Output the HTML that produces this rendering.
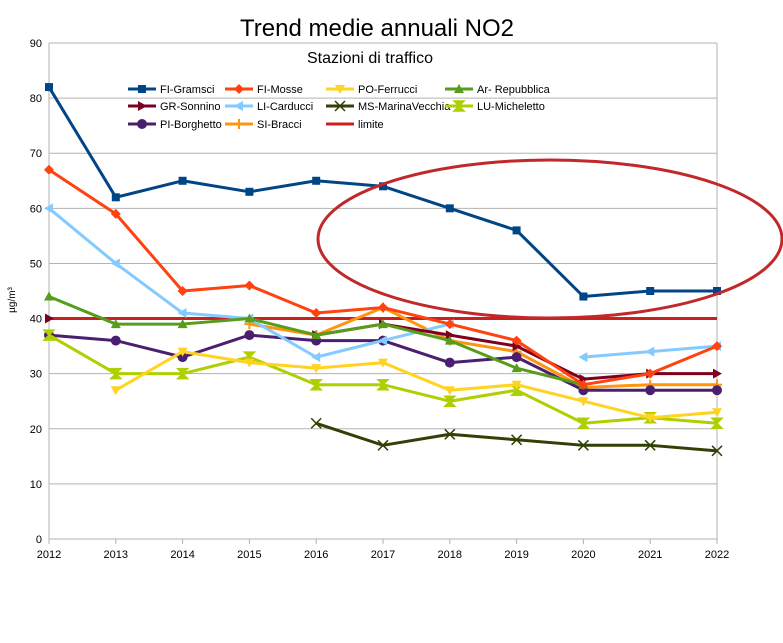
<!DOCTYPE html>
<html><head><meta charset="utf-8"><style>
body{margin:0;background:#fff;font-family:"Liberation Sans",sans-serif}
</style></head><body>
<svg id="chart" width="783" height="638" xmlns="http://www.w3.org/2000/svg" font-family="Liberation Sans, sans-serif">
<rect width="783" height="638" fill="#fff"/>
<text x="377" y="36" font-size="24" text-anchor="middle">Trend medie annuali NO2</text>
<text x="370" y="63" font-size="16" text-anchor="middle">Stazioni di traffico</text>
<text transform="translate(15,300) rotate(-90)" font-size="10" text-anchor="middle">µg/m³</text>
<g id="grid"></g><g id="series"></g><g id="legend"></g>
<ellipse cx="550" cy="239" rx="232" ry="79" fill="none" stroke="#c0282a" stroke-width="3"/>
</svg>
<script>
const years=[2012,2013,2014,2015,2016,2017,2018,2019,2020,2021,2022];
const yTicks=[0,10,20,30,40,50,60,70,80,90];
const fiGramsci=[82,62,65,63,65,64,60,56,44,45,45];
const fiMosse=[67,59,45,46,41,42,39,36,28,30,35];
const poFerrucci=[null,27,34,32,31,32,27,28,25,22,23];
const arRepubblica=[44,39,39,40,37,39,36,31,28,null,null];
const grSonnino=[40,null,null,null,37,39,37,35,29,30,30];
const liCarducci=[60,50,41,40,33,36,39,null,33,34,35];
const msMarinaVecchia=[null,null,null,null,21,17,19,18,17,17,16];
const luMicheletto=[37,30,30,33,28,28,25,27,21,22,21];
const piBorghetto=[37,36,33,37,36,36,32,33,27,27,27];
const siBracci=[null,null,null,39,37,42,36,34,27.5,28,28];
const limite=[40,40,40,40,40,40,40,40,40,40,40];
const NS="http://www.w3.org/2000/svg";
const X0=49,X1=717,Y0=539,Y1=43;
const xs=y=>X0+(y-years[0])/(years[years.length-1]-years[0])*(X1-X0);
const ys=v=>Y0-v/90*(Y0-Y1);
function mk(t,a,p){const e=document.createElementNS(NS,t);for(const k in a)e.setAttribute(k,a[k]);p.appendChild(e);return e;}
const grid=document.getElementById('grid');
yTicks.forEach(v=>{
 const l=mk('line',{x1:X0,x2:X1,y1:ys(v),y2:ys(v),stroke:'#b3b3b3','stroke-width':1},grid);
 
 
 const t=mk('text',{x:X0-7,y:ys(v)+4,'font-size':11,'text-anchor':'end'},grid);t.textContent=v;
 
 
});
mk('line',{x1:X0,x2:X0,y1:Y1,y2:Y0,stroke:'#b3b3b3'},grid);
mk('line',{x1:X1,x2:X1,y1:Y1,y2:Y0,stroke:'#b3b3b3'},grid);
years.forEach(y=>{
 mk('line',{x1:xs(y),x2:xs(y),y1:Y0,y2:Y0+5,stroke:'#b3b3b3'},grid);
 const t=mk('text',{x:xs(y),y:Y0+19,'font-size':11,'text-anchor':'middle'},grid);t.textContent=y;
 
 
});
function marker(shape,x,y,c,g){
 const s=5;
 if(shape==='square')return mk('rect',{x:x-4,y:y-4,width:8,height:8,fill:c},g);
 if(shape==='diamond')return mk('polygon',{points:`${x},${y-s} ${x+s},${y} ${x},${y+s} ${x-s},${y}`,fill:c},g);
 if(shape==='down')return mk('polygon',{points:`${x-s},${y-4} ${x+s},${y-4} ${x},${y+5}`,fill:c},g);
 if(shape==='up')return mk('polygon',{points:`${x-s},${y+4} ${x+s},${y+4} ${x},${y-5}`,fill:c},g);
 if(shape==='right')return mk('polygon',{points:`${x-4},${y-s} ${x-4},${y+s} ${x+5},${y}`,fill:c},g);
 if(shape==='left')return mk('polygon',{points:`${x+4},${y-s} ${x+4},${y+s} ${x-5},${y}`,fill:c},g);
 if(shape==='bowtie')return mk('polygon',{points:`${x-5},${y-5} ${x},${y} ${x-5},${y+5} ${x+5},${y-5} ${x},${y} ${x+5},${y+5}`,fill:c,stroke:c,'stroke-width':1.5},g);
 if(shape==='hour')return mk('polygon',{points:`${x-5},${y-5} ${x+5},${y-5} ${x},${y} ${x+5},${y+5} ${x-5},${y+5} ${x},${y}`,fill:c,stroke:c,'stroke-width':1.5},g);
 if(shape==='circle')return mk('circle',{cx:x,cy:y,r:5,fill:c},g);
 if(shape==='star'){const gg=mk('g',{},g);mk('line',{x1:x-5,x2:x+5,y1:y,y2:y,stroke:c,'stroke-width':2},gg);mk('line',{x1:x,x2:x,y1:y-5,y2:y+5,stroke:c,'stroke-width':2},gg);return gg;}
 return null;
}
const series=[
 ['FI-Gramsci',fiGramsci,'#004586','square'],
 ['FI-Mosse',fiMosse,'#ff420e','diamond'],
 ['PO-Ferrucci',poFerrucci,'#ffd320','down'],
 ['Ar- Repubblica',arRepubblica,'#579d1c','up'],
 ['GR-Sonnino',grSonnino,'#7e0021','right'],
 ['LI-Carducci',liCarducci,'#83caff','left'],
 ['MS-MarinaVecchia',msMarinaVecchia,'#314004','bowtie'],
 ['LU-Micheletto',luMicheletto,'#aecf00','hour'],
 ['PI-Borghetto',piBorghetto,'#4b1f6f','circle'],
 ['SI-Bracci',siBracci,'#ff950e','star'],
 ['limite',limite,'#c9211e',null]
];
const sg=document.getElementById('series');
series.slice().reverse().forEach(([name,vals,c,shape])=>{
 const g=mk('g',{},sg);
 
 
 let segs=[],cur=[];
 vals.forEach((v,i)=>{if(v==null){if(cur.length)segs.push(cur);cur=[];}else cur.push([xs(years[i]),ys(v)]);});
 if(cur.length)segs.push(cur);
 segs.forEach(s=>{if(s.length>1)mk('polyline',{points:s.map(p=>p.join(',')).join(' '),fill:'none',stroke:c,'stroke-width':3,'stroke-linejoin':'round'},g);});
 if(shape)vals.forEach((v,i)=>{if(v!=null){const m=marker(shape,xs(years[i]),ys(v),c,g);
  
  }});
});
const lg=document.getElementById('legend');
const colX=[128,225,326,445],rowY=[89,106,124];
series.forEach(([name,vals,c,shape],i)=>{
 const x=colX[i%4],y=rowY[Math.floor(i/4)];
 const g=mk('g',{},lg);
 
 
 mk('line',{x1:x,x2:x+28,y1:y,y2:y,stroke:c,'stroke-width':3},g);
 if(shape)marker(shape,x+14,y,c,g);
 const t=mk('text',{x:x+32,y:y+4,'font-size':11},g);t.textContent=name;
});
</script>
</body></html>
